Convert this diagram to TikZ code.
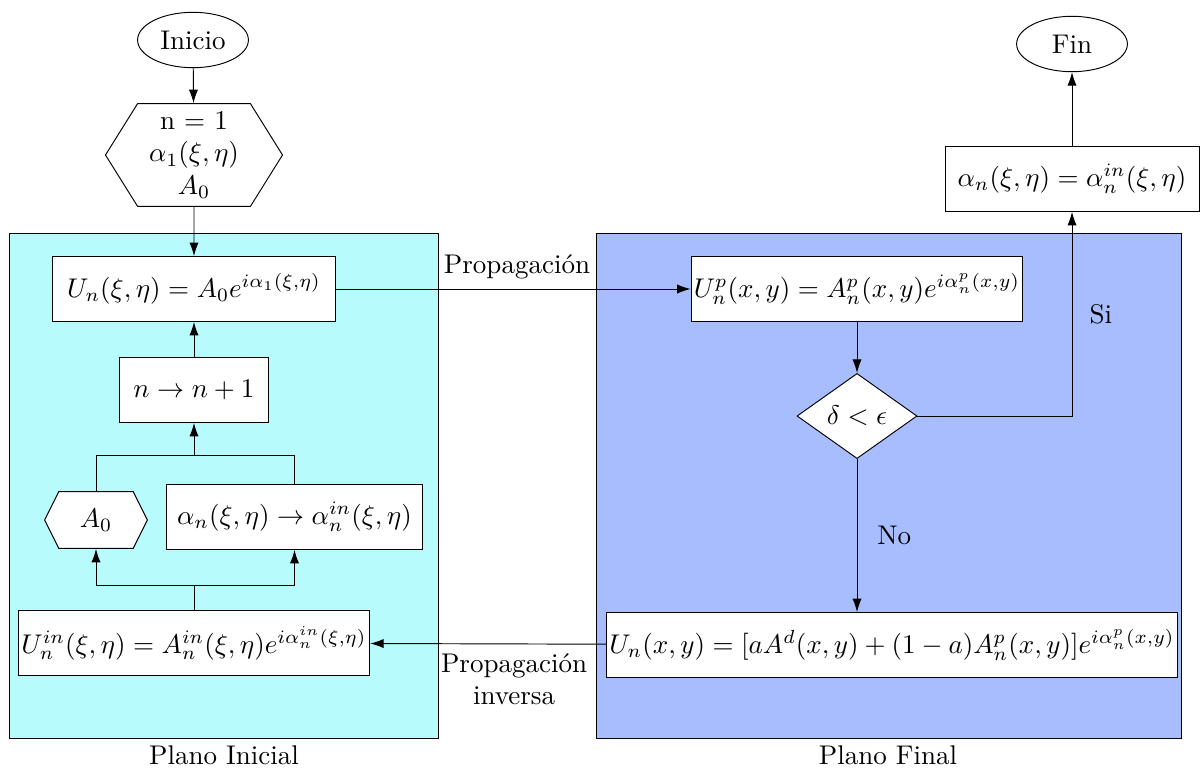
\documentclass[tikz,border=0pt]{standalone}
\usetikzlibrary{shapes.geometric,shapes.symbols,positioning,arrows.meta}
\definecolor{planoini}{RGB}{184,251,252}
\definecolor{planofin}{RGB}{168,189,254}
\tikzset{
  caja/.style={draw, fill=white, rectangle, minimum height=24pt, inner sep=1pt},
  extremo/.style={draw, fill=white, ellipse, minimum width=41pt, minimum height=20.5pt, inner sep=0pt},
  prepara/.style={draw, fill=white, signal, signal to=east and west, inner sep=1pt},
  decide/.style={draw, fill=white, diamond, aspect=1.4, minimum width=44.4pt, minimum height=31.5pt, inner sep=0pt},
  flecha/.style={-{Latex[length=5pt,width=3.4pt]}},
}
\begin{document}
\begin{tikzpicture}[x=0.37pt, y=-0.37pt, line width=0.35pt]
        \useasboundingbox (0,0) rectangle (1201,771);
        % Planos
        \draw[fill=planoini] (9,233) rectangle (438,738);
        \draw[fill=planofin] (596,233) rectangle (1181,738);
        \node (rotini) at (224,755) {Plano Inicial};
        \node (rotfin) at (888,755) {Plano Final};

        % Inicio
        \node[extremo] (inicio) at (193,40) {Inicio};
        \node[prepara, signal pointer angle=116, minimum width=65.5pt, minimum height=38pt, align=center] (inicia) at (194,155) {n $=$ 1\\$\alpha_1(\xi,\eta)$\\$A_0$};

        % Plano inicial
        \node[caja, minimum width=105pt] (unxi) at (194,289) {$U_n(\xi,\eta)=A_0e^{i\alpha_1(\xi,\eta)}$};
        \node[caja, minimum width=54.8pt] (nmas) at (194,390) {$n\rightarrow n+1$};
        \node[prepara, signal pointer angle=127, minimum width=38pt, minimum height=21pt] (acero) at (96,520) {$A_0$};
        \node[caja, minimum width=94.4pt] (alfacam) at (294.5,517) {$\alpha_n(\xi,\eta)\rightarrow\alpha_n^{in}(\xi,\eta)$};
        \node[caja, minimum width=130pt] (uinxi) at (194,643) {$U_n^{in}(\xi,\eta)=A_n^{in}(\xi,\eta)e^{i\alpha_n^{in}(\xi,\eta)}$};
        \coordinate (arriba) at (194,455);
        \coordinate (abajo) at (194,585);

        % Plano final
        \node[caja, minimum width=121.7pt] (upxy) at (857,289) {$U_n^p(x,y)=A_n^p(x,y)e^{i\alpha_n^p(x,y)}$};
        \node[decide] (delta) at (857,416) {$\delta<\epsilon$};
        \node[caja, minimum width=210pt] (unxy) at (892,645) {$U_n(x,y)=[aA^d(x,y)+(1-a)A_n^p(x,y)]e^{i\alpha_n^p(x,y)}$};

        % Fin
        \node[caja, minimum width=94pt] (alfaig) at (1072,179) {$\alpha_n(\xi,\eta)=\alpha_n^{in}(\xi,\eta)$};
        \node[extremo] (fin) at (1072,44) {Fin};

        % Conexiones
        \draw[flecha] (inicio) -- (inicia);
        \draw[flecha] (inicia) -- (unxi);
        \draw[flecha] (unxi) -- node[pos=0.51, above] {Propagación} (upxy);
        \draw[flecha] (upxy) -- (delta);
        \draw[flecha] (delta) -- node[right=4pt] {No} (delta |- unxy.north);
        \draw[flecha] (delta.east) -| node[pos=0.75, right=3pt] {Si} (alfaig);
        \draw[flecha] (alfaig) -- (fin);
        \draw[flecha] (unxy) -- node[pos=0.39, below, align=center] {Propagación\\inversa} (uinxi);
        \draw (uinxi.north) -- (abajo);
        \draw[flecha] (abajo) -| (acero.south);
        \draw[flecha] (abajo) -| (alfacam.south);
        \draw (acero.north) |- (arriba);
        \draw (alfacam.north) |- (arriba);
        \draw[flecha] (arriba) -- (nmas);
        \draw[flecha] (nmas) -- (unxi);
\end{tikzpicture}
\end{document}
